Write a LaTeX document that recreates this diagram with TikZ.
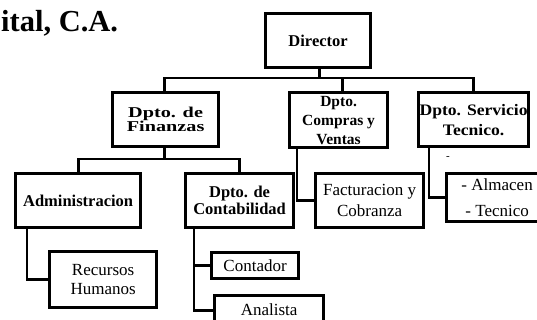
\documentclass[tikz,border=0pt]{standalone}
\usepackage{fontspec}
\setmainfont{Liberation Serif}
\newfontfamily\widefont[FakeStretch=1.35]{Liberation Serif}
\newfontfamily\midfont[FakeStretch=1.1]{Liberation Serif}
\begin{document}
\begin{tikzpicture}[x=1pt,y=-1pt,
  box/.style={draw, line width=3.2pt, inner sep=0pt, anchor=north west, align=center},
  conn/.style={line width=2.9pt},
  bt/.style={font=\fontsize{16.5}{#1}\selectfont\bfseries},
  rt/.style={font=\fontsize{17}{#1}\selectfont}]
\useasboundingbox (0,0) rectangle (537,320);
\clip (0,0) rectangle (537,320);
\node[anchor=base west, inner sep=0pt, font=\fontsize{30.5}{30}\selectfont\bfseries] (title) at (1,31.5) {ital, C.A.};
% level 0
\node[box, bt=17, minimum width=105pt, minimum height=54pt] (dir) at (264,12) {Director};
% level 1
\node[box, font=\widefont\fontsize{15}{14}\selectfont\bfseries, minimum width=106pt, minimum height=54pt] (fin) at (111,91) {Dpto. de\\Finanzas};
\node[box, font=\fontsize{15.5}{19}\selectfont\bfseries, minimum width=98pt, minimum height=55pt] (com) at (288,91) {Dpto.\\Compras y\\Ventas};
\node[box, font=\midfont\fontsize{16}{20}\selectfont\bfseries, minimum width=110pt, minimum height=54pt] (ser) at (417,91) {Dpto. Servicio\\Tecnico.};
% level 2
\node[box, bt=17, minimum width=125pt, minimum height=54pt] (adm) at (14,172) {Administracion};
\node[box, bt=17, minimum width=108pt, minimum height=54pt] (con) at (184,172) {Dpto. de\\Contabilidad};
\node[box, rt=21, minimum width=108pt, minimum height=54pt] (fac) at (314,172) {Facturacion y\\Cobranza};
\node[box, rt=26, minimum width=101pt, minimum height=48pt] (alm) at (445,172) {- Almacen\\- Tecnico};
\node[font=\fontsize{11}{11}\selectfont, inner sep=0pt] (dash) at (448,158) {-};
% level 3
\node[box, rt=19, minimum width=107pt, minimum height=56pt] (rec) at (48,250) {Recursos\\Humanos};
\node[box, rt=17, minimum width=87pt, minimum height=26pt] (cnt) at (210,251) {Contador};
\node[box, rt=17, minimum width=109pt, minimum height=29pt] (ana) at (213,294) {Analista};
% connectors
\coordinate (bus) at (0,78);
\coordinate (bus2) at (0,159);
\draw[conn] ([xshift=1.5pt]dir.south) -- ([xshift=1.5pt]dir.south |- bus);
\draw[conn] ([xshift=-1pt]fin.north) |- (ser.north |- bus) -- (ser.north);
\draw[conn] ([xshift=4pt]com.north) -- ([xshift=4pt]com.north |- bus);
\draw[conn] ([xshift=-1pt]fin.south) -- ([xshift=-1pt]fin.south |- bus2);
\draw[conn] (adm.north) |- (con.north |- bus2) -- (con.north);
\draw[conn] ([xshift=13pt]adm.south west) |- (rec.west);
\draw[conn] ([xshift=10pt]con.south west) |- (ana.west);
\draw[conn] ([xshift=10pt]con.south west |- cnt.west) -- (cnt.west);
\draw[conn] ([xshift=9pt]com.south west) |- (fac.west);
\draw[conn] ([xshift=12pt]ser.south west) |- (alm.west);
\end{tikzpicture}
\end{document}
